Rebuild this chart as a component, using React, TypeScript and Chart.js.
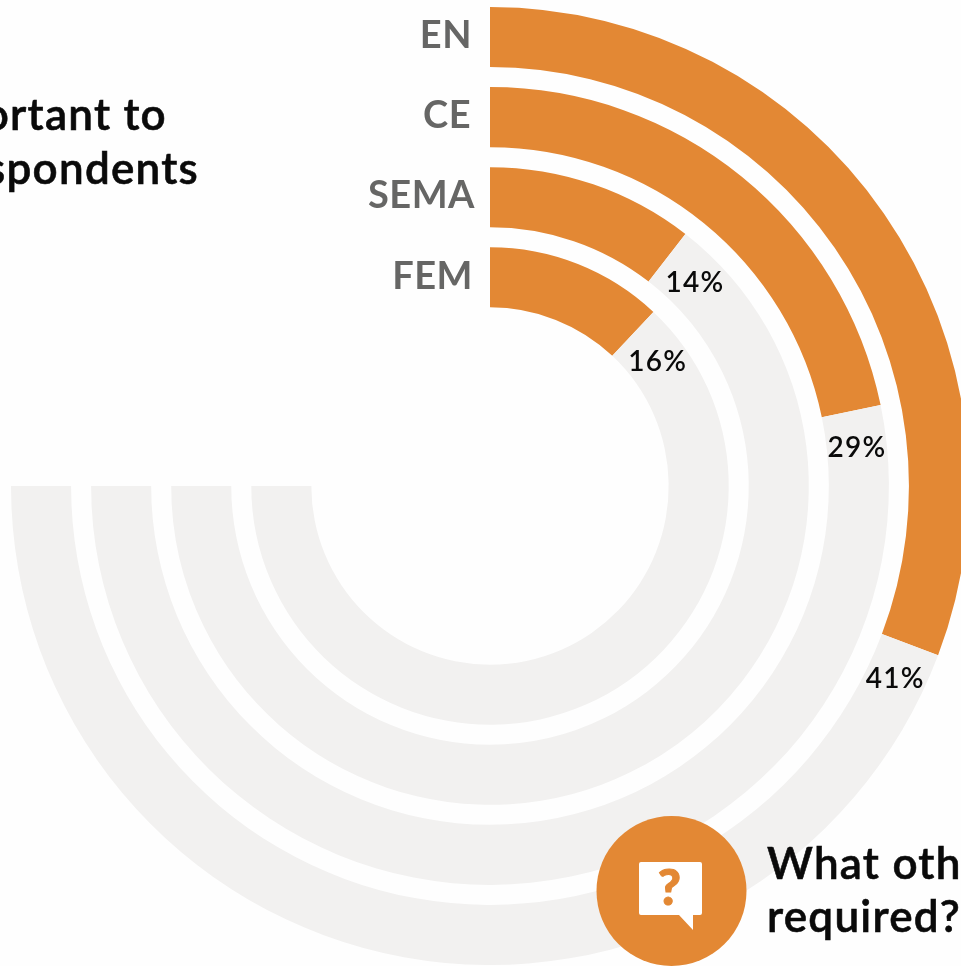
import React, { useEffect, useRef } from "react";
import { Chart, registerables } from "chart.js";

Chart.register(...registerables);

const categories = ["EN", "CE", "SEMA", "FEM"];
const shares = [41, 29, 14, 16];
const titleLeft = ["important to", "respondents"];
const titleRight = ["What other", "required?"];

const ORANGE = "#e38834";
const GREY = "#f2f1f0";
const labelNudge: Record<string, number> = { EN: 0, CE: -1, SEMA: 3, FEM: 1 };

const toDatasets = () => {
  const out: any[] = [];
  shares.forEach((v, i) => {
    out.push({
      label: categories[i],
      data: [v, 100 - v],
      backgroundColor: [ORANGE, GREY],
      borderWidth: 0,
      weight: 3,
    });
    if (i < shares.length - 1) {
      out.push({
        label: "",
        data: [100],
        backgroundColor: ["rgba(0,0,0,0)"],
        borderWidth: 0,
        weight: 1,
      });
    }
  });
  return out;
};

const ringLabels = {
  id: "ringLabels",
  afterDatasetsDraw(chart: any) {
    const ctx = chart.ctx;
    ctx.save();
    ctx.textBaseline = "middle";
    shares.forEach((v, i) => {
      const arc = chart.getDatasetMeta(i * 2).data[0];
      const mid = (arc.innerRadius + arc.outerRadius) / 2;
      ctx.fillStyle = "#666665";
      ctx.font = "700 38px Lato";
      ctx.letterSpacing = "0.5px";
      ctx.textAlign = "right";
      ctx.fillText(categories[i], arc.x - 18 + labelNudge[categories[i]], arc.y - mid - 1);
      const angle = arc.endAngle + 37.5 / mid;
      ctx.fillStyle = "#0a0a0a";
      ctx.font = "600 28px Lato";
      ctx.letterSpacing = "1.3px";
      ctx.textAlign = "center";
      ctx.fillText(`${v}%`, arc.x + Math.cos(angle) * mid, arc.y + Math.sin(angle) * mid);
    });
    ctx.restore();
  },
};

const headingStyle: React.CSSProperties = {
  position: "absolute",
  font: "600 44px/53px Lato",
  letterSpacing: "1.25px",
  color: "#0a0a0a",
  WebkitTextStroke: "0.6px #0a0a0a",
  whiteSpace: "nowrap",
  margin: 0,
};

export default function App() {
  const ref = useRef<HTMLCanvasElement | null>(null);
  useEffect(() => {
    document.body.style.margin = "0";
    document.body.style.background = "#fefefe";
    const chart = new Chart(ref.current!, {
      type: "doughnut",
      data: { labels: ["share", "rest"], datasets: toDatasets() },
      options: {
        responsive: false,
        devicePixelRatio: 1,
        animation: false,
        rotation: 0,
        circumference: 270,
        cutout: "37.3%",
        layout: { padding: { left: 11, right: 11, top: 7, bottom: 7 } },
        plugins: { legend: { display: false }, tooltip: { enabled: false } },
      } as any,
      plugins: [ringLabels],
    });
    return () => chart.destroy();
  }, []);

  return (
    <div style={{ position: "relative", width: 961, height: 966, overflow: "hidden", background: "#fefefe" }}>
      <canvas ref={ref} width={980} height={972} style={{ position: "absolute", left: 0, top: 0, display: "block" }} />
      <div style={{ ...headingStyle, right: 961 - 167, top: 87, textAlign: "right" }}>{titleLeft[0]}</div>
      <div style={{ ...headingStyle, right: 961 - 199, top: 141, textAlign: "right" }}>{titleLeft[1]}</div>
      <div style={{ ...headingStyle, left: 767, top: 836 }}>{titleRight[0]}</div>
      <div style={{ ...headingStyle, left: 767, top: 889 }}>{titleRight[1]}</div>
      <svg width={961} height={966} style={{ position: "absolute", left: 0, top: 0, pointerEvents: "none" }}>
        <circle cx={671.5} cy={891} r={75} fill={ORANGE} />
        <path d="M641 862H700a2 2 0 0 1 2 2V913a2 2 0 0 1-2 2H693V930L679 915H641a2 2 0 0 1-2-2V864a2 2 0 0 1 2-2Z" fill="#fff" />
        <text x={669.5} y={905} textAnchor="middle" fontFamily="Lato" fontWeight={900} fontSize={50} fill={ORANGE} stroke={ORANGE} strokeWidth={1}>?</text>
      </svg>
    </div>
  );
}
